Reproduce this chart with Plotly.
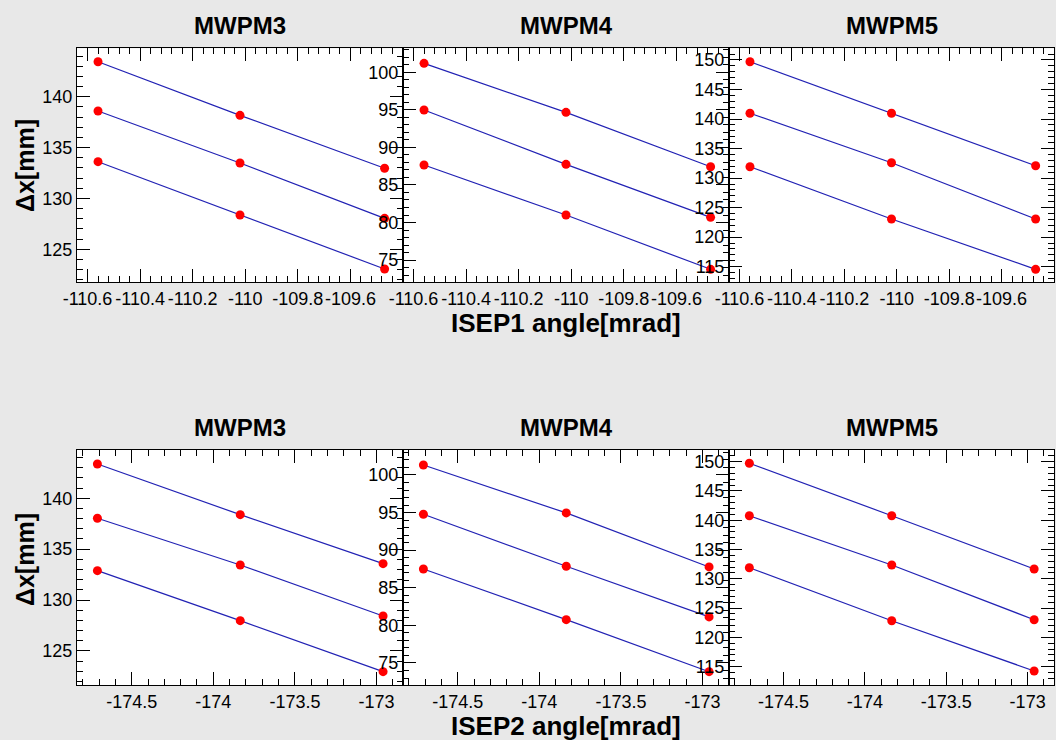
import plotly.graph_objects as go

# ---------------- data ----------------
MONITORS = ["MWPM3", "MWPM4", "MWPM5"]

ISEP1_ANGLE = [-110.56, -110.02, -109.47]
ISEP2_ANGLE = [-174.71, -173.835, -172.96]

ISEP1_MWPM3_A = [143.44, 138.17, 132.96]
ISEP1_MWPM3_B = [138.59, 133.48, 128.04]
ISEP1_MWPM3_C = [133.61, 128.37, 123.06]
ISEP1_MWPM4_A = [101.20, 94.67, 87.43]
ISEP1_MWPM4_B = [94.98, 87.75, 80.69]
ISEP1_MWPM4_C = [87.66, 81.00, 73.77]
ISEP1_MWPM5_A = [149.71, 140.98, 132.10]
ISEP1_MWPM5_B = [140.98, 132.61, 123.08]
ISEP1_MWPM5_C = [131.93, 123.08, 114.56]

ISEP2_MWPM3_A = [143.37, 138.39, 133.58]
ISEP2_MWPM3_B = [138.04, 133.45, 128.44]
ISEP2_MWPM3_C = [132.89, 127.98, 122.97]
ISEP2_MWPM4_A = [101.33, 94.95, 87.77]
ISEP2_MWPM4_B = [94.77, 87.86, 81.12]
ISEP2_MWPM4_C = [87.50, 80.76, 73.84]
ISEP2_MWPM5_A = [149.73, 140.78, 131.68]
ISEP2_MWPM5_B = [140.78, 132.36, 123.02]
ISEP2_MWPM5_C = [131.90, 122.85, 114.27]

ISEP1_TICKS = [-110.6, -110.4, -110.2, -110.0, -109.8, -109.6]
ISEP1_TICK_TEXT = ["-110.6", "-110.4", "-110.2", "-110", "-109.8", "-109.6"]
ISEP2_TICKS = [-174.5, -174.0, -173.5, -173.0]
ISEP2_TICK_TEXT = ["-174.5", "-174", "-173.5", "-173"]

X_TITLES = ["ISEP1 angle[mrad]", "ISEP2 angle[mrad]"]
Y_TITLE = "Δx[mm]"

# ---------------- layout helpers ----------------
W, H = 1056, 740
FONT = "Liberation Sans, Arial, Helvetica, sans-serif"


def fx(p):
    return p / W


def fy(p):
    return 1 - p / H


COL_PX = [(77, 403), (403, 729), (729, 1054)]
ROW_PX = [(48.3, 282.3), (450, 685)]

rows = [
    dict(x=ISEP1_ANGLE, series=[[ISEP1_MWPM3_A, ISEP1_MWPM3_B, ISEP1_MWPM3_C],
                                [ISEP1_MWPM4_A, ISEP1_MWPM4_B, ISEP1_MWPM4_C],
                                [ISEP1_MWPM5_A, ISEP1_MWPM5_B, ISEP1_MWPM5_C]],
         xrange=[-110.64, -109.40], tickvals=ISEP1_TICKS, ticktext=ISEP1_TICK_TEXT,
         minor0=-110.6, minord=0.04,
         yranges=[[121.75, 144.76], [72.04, 103.2], [112.36, 151.98]]),
    dict(x=ISEP2_ANGLE, series=[[ISEP2_MWPM3_A, ISEP2_MWPM3_B, ISEP2_MWPM3_C],
                                [ISEP2_MWPM4_A, ISEP2_MWPM4_B, ISEP2_MWPM4_C],
                                [ISEP2_MWPM5_A, ISEP2_MWPM5_B, ISEP2_MWPM5_C]],
         xrange=[-174.835, -172.838], tickvals=ISEP2_TICKS, ticktext=ISEP2_TICK_TEXT,
         minor0=-174.5, minord=0.1,
         yranges=[[121.66, 144.74], [72.07, 103.32], [111.87, 152.0]]),
]

TITLE_Y = [26, 427]
XTITLE_Y = [323, 726]
YTITLE_Y = [166, 560]

fig = go.Figure()
layout = dict(
    width=W, height=H, autosize=False,
    margin=dict(l=0, r=0, t=0, b=0, pad=0),
    paper_bgcolor="#e8e8e8", plot_bgcolor="white",
    showlegend=False,
    font=dict(family=FONT, color="black"),
)

axis_common = dict(
    automargin=False,
    showgrid=False, zeroline=False, showline=True, linecolor="black", linewidth=1,
    mirror="ticks", ticks="inside", ticklen=13, tickwidth=1, tickcolor="black",
    tickfont=dict(family=FONT, size=18, color="black"),
)

annotations = []
idx = 0
for r, row in enumerate(rows):
    y0p, y1p = ROW_PX[r]
    for c in range(3):
        idx += 1
        xs = "" if idx == 1 else str(idx)
        x0p, x1p = COL_PX[c]
        layout["xaxis" + xs] = dict(
            axis_common, domain=[fx(x0p), fx(x1p)], anchor="y" + xs,
            range=row["xrange"], tickmode="array", tickvals=row["tickvals"],
            ticktext=row["ticktext"], tickangle=0,
            minor=dict(tickmode="linear", tick0=row["minor0"], dtick=row["minord"],
                       ticks="inside", ticklen=6, tickwidth=1, tickcolor="black", showgrid=False),
        )
        layout["yaxis" + xs] = dict(
            axis_common, domain=[fy(y1p), fy(y0p)], anchor="x" + xs,
            range=row["yranges"][c], tickmode="linear", tick0=0, dtick=5,
            minor=dict(tickmode="linear", tick0=0, dtick=1,
                       ticks="inside", ticklen=6, tickwidth=1, tickcolor="black", showgrid=False),
        )
        for s in row["series"][c]:
            fig.add_trace(go.Scatter(
                x=row["x"], y=s, mode="lines+markers",
                xaxis="x" + xs, yaxis="y" + xs,
                line=dict(color="#2222b4", width=1.2),
                marker=dict(color="#ff0000", size=9, line=dict(width=0)),
                cliponaxis=False, hoverinfo="skip",
            ))
        # panel title
        annotations.append(dict(
            text="<b>%s</b>" % MONITORS[c], xref="paper", yref="paper",
            x=fx((x0p + x1p) / 2), y=fy(TITLE_Y[r]),
            xanchor="center", yanchor="middle", showarrow=False,
            font=dict(family=FONT, size=24, color="black"),
        ))
    # x-axis title under the middle panel
    annotations.append(dict(
        text="<b>%s</b>" % X_TITLES[r], xref="paper", yref="paper",
        x=fx(566), y=fy(XTITLE_Y[r]),
        xanchor="center", yanchor="middle", showarrow=False,
        font=dict(family=FONT, size=26, color="black"),
    ))
    # y-axis title
    annotations.append(dict(
        text="<b>%s</b>" % Y_TITLE, xref="paper", yref="paper",
        x=fx(25), y=fy(YTITLE_Y[r]), textangle=-90,
        xanchor="center", yanchor="middle", showarrow=False,
        font=dict(family=FONT, size=25, color="black"),
    ))

layout["annotations"] = annotations
fig.update_layout(**layout)
fig.write_html("out.html")
